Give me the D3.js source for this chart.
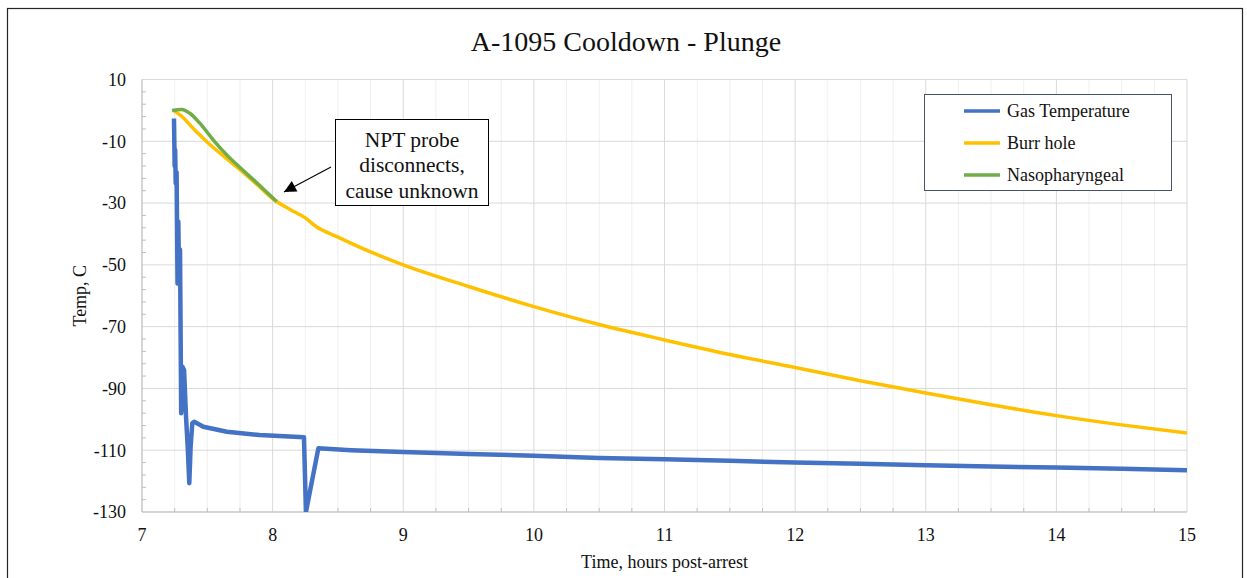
<!DOCTYPE html>
<html>
<head>
<meta charset="utf-8">
<script src="https://cdn.jsdelivr.net/npm/d3@7"></script>
<style>
  body { margin: 0; background: #fff; }
  svg { display: block; font-family: "Liberation Serif", "Times New Roman", serif; }
</style>
</head>
<body>
<svg id="chart" width="1247" height="578"></svg>
<script>
// A-1095 cooldown: gas temp vs burr hole vs nasopharyngeal probes.

const xTicks = [7, 8, 9, 10, 11, 12, 13, 14, 15];
const yTicks = [10, -10, -30, -50, -70, -90, -110, -130];

// [hours post-arrest, temp C]
const gasTemp = [
  [7.245, -2.6], [7.250, -18], [7.254, -12.8], [7.258, -23.6], [7.265, -20],
  [7.272, -56], [7.278, -36], [7.284, -55], [7.291, -45], [7.300, -98],
  [7.310, -83], [7.322, -84], [7.338, -100], [7.350, -109], [7.362, -120.7],
  [7.372, -109], [7.385, -101.3], [7.400, -100.8], [7.47, -102.4], [7.65, -104],
  [7.9, -105.1], [8.24, -105.8], [8.255, -130], [8.35, -109.4], [8.6, -110],
  [9, -110.6], [9.5, -111.2], [10, -111.8], [10.5, -112.5], [11, -112.9],
  [11.5, -113.4], [12, -114], [12.5, -114.4], [13, -114.9], [13.5, -115.3],
  [14, -115.6], [14.5, -116], [15, -116.5]
];

const burrHole = [
  [7.24, 0], [7.3, -1.8], [7.4, -6.2], [7.5, -10.3], [7.625, -14.8],
  [7.75, -19.2], [7.875, -23.8], [8.0, -28.6], [8.13, -32], [8.25, -34.8],
  [8.33, -37.5], [8.5, -41], [8.75, -45.8], [9, -50], [9.5, -57],
  [10, -63.5], [10.5, -69.3], [11, -74.3], [11.5, -79], [12, -83.2],
  [12.5, -87.5], [13, -91.5], [13.5, -95.3], [14, -98.8], [14.5, -101.8],
  [15, -104.4]
];

const nasoph = [
  [7.23, 0], [7.304, 0.3], [7.368, -1], [7.444, -4.2], [7.546, -9.6],
  [7.649, -14.4], [7.75, -18.5], [7.878, -23.4], [8.031, -29.5]
];

const seriesNames = ['Gas Temperature', 'Burr hole', 'Nasopharyngeal'];
const seriesColors = ['#4472C4', '#FFC000', '#70AD47'];

const svg = d3.select('#chart');
const plot = { left: 142, right: 1187, top: 79.5, bottom: 512 };

const x = d3.scaleLinear().domain([7, 15]).range([plot.left, plot.right]);
const y = d3.scaleLinear().domain([-130, 10]).range([plot.bottom, plot.top]);

// outer frame
svg.append('rect')
  .attr('x', 7.5).attr('y', 8.5).attr('width', 1235).attr('height', 600)
  .attr('fill', '#fff').attr('stroke', '#262626').attr('stroke-width', 1.2);

// minor vertical grid every quarter hour
const minorX = d3.range(7, 15.001, 0.25).filter((d) => d % 1 !== 0);
svg.append('g').selectAll('line').data(minorX).join('line')
  .attr('x1', (d) => x(d)).attr('x2', (d) => x(d))
  .attr('y1', plot.top).attr('y2', plot.bottom)
  .attr('stroke', '#efefef').attr('stroke-width', 1);

// major grid
svg.append('g').selectAll('line').data(xTicks).join('line')
  .attr('x1', (d) => x(d)).attr('x2', (d) => x(d))
  .attr('y1', plot.top).attr('y2', plot.bottom)
  .attr('stroke', '#d9d9d9').attr('stroke-width', 1);
svg.append('g').selectAll('line').data(yTicks).join('line')
  .attr('x1', plot.left).attr('x2', plot.right)
  .attr('y1', (d) => y(d)).attr('y2', (d) => y(d))
  .attr('stroke', '#d9d9d9').attr('stroke-width', 1);

// axis lines
svg.append('line').attr('x1', plot.left).attr('x2', plot.left)
  .attr('y1', plot.top).attr('y2', plot.bottom).attr('stroke', '#bfbfbf');
svg.append('line').attr('x1', plot.left).attr('x2', plot.right)
  .attr('y1', plot.bottom).attr('y2', plot.bottom).attr('stroke', '#bfbfbf');

// minor ticks (inside)
const minorY = d3.range(-130, 10.001, 4).filter((d) => (d + 130) % 20 !== 0);
svg.append('g').selectAll('line').data(minorY).join('line')
  .attr('x1', plot.left).attr('x2', plot.left + 4)
  .attr('y1', (d) => y(d)).attr('y2', (d) => y(d))
  .attr('stroke', '#bfbfbf');
svg.append('g').selectAll('line').data(minorX).join('line')
  .attr('x1', (d) => x(d)).attr('x2', (d) => x(d))
  .attr('y1', plot.bottom).attr('y2', plot.bottom - 4)
  .attr('stroke', '#bfbfbf');

// tick labels
svg.append('g').selectAll('text').data(yTicks).join('text')
  .attr('x', plot.left - 16).attr('y', (d) => y(d)).attr('dy', '0.35em')
  .attr('text-anchor', 'end').attr('font-size', 18).attr('fill', '#111')
  .text((d) => d);
svg.append('g').selectAll('text').data(xTicks).join('text')
  .attr('x', (d) => x(d)).attr('y', 541)
  .attr('text-anchor', 'middle').attr('font-size', 18).attr('fill', '#111')
  .text((d) => d);

// titles
svg.append('text').attr('x', 626).attr('y', 51).attr('text-anchor', 'middle')
  .attr('font-size', 28).attr('fill', '#111').text('A-1095 Cooldown - Plunge');
svg.append('text').attr('x', (plot.left + plot.right) / 2).attr('y', 568)
  .attr('text-anchor', 'middle').attr('font-size', 18).attr('fill', '#111')
  .text('Time, hours post-arrest');
svg.append('text')
  .attr('transform', `translate(86,${(plot.top + plot.bottom) / 2}) rotate(-90)`)
  .attr('text-anchor', 'middle').attr('font-size', 18).attr('fill', '#111')
  .text('Temp, C');

// series
svg.append('clipPath').attr('id', 'clip').append('rect')
  .attr('x', plot.left).attr('y', plot.top)
  .attr('width', plot.right - plot.left).attr('height', plot.bottom - plot.top);

const rough = d3.line().x((d) => x(d[0])).y((d) => y(d[1]));
const smooth = d3.line().x((d) => x(d[0])).y((d) => y(d[1])).curve(d3.curveMonotoneX);

const g = svg.append('g').attr('clip-path', 'url(#clip)');
g.append('path').datum(burrHole).attr('d', smooth)
  .attr('fill', 'none').attr('stroke', seriesColors[1]).attr('stroke-width', 3.5)
  .attr('stroke-linejoin', 'round');
g.append('path').datum(nasoph).attr('d', smooth)
  .attr('fill', 'none').attr('stroke', seriesColors[2]).attr('stroke-width', 3.5)
  .attr('stroke-linejoin', 'round');
g.append('path').datum(gasTemp).attr('d', rough)
  .attr('fill', 'none').attr('stroke', seriesColors[0]).attr('stroke-width', 4.5)
  .attr('stroke-linejoin', 'round');

// legend
const lg = svg.append('g');
lg.append('rect').attr('x', 924.5).attr('y', 94.5).attr('width', 247).attr('height', 96)
  .attr('fill', '#fff').attr('stroke', '#44546a').attr('stroke-width', 1);
seriesNames.forEach((name, i) => {
  const yy = 111 + i * 32;
  lg.append('line').attr('x1', 964).attr('x2', 1000).attr('y1', yy).attr('y2', yy)
    .attr('stroke', seriesColors[i]).attr('stroke-width', 3.5);
  lg.append('text').attr('x', 1007).attr('y', yy).attr('dy', '0.35em')
    .attr('font-size', 18).attr('fill', '#111').text(name);
});

// annotation
const note = { t: 8.087, v: -26.4 };
svg.append('defs').append('marker')
  .attr('id', 'arrow').attr('viewBox', '0 0 10 10')
  .attr('refX', 10).attr('refY', 5)
  .attr('markerUnits', 'userSpaceOnUse')
  .attr('markerWidth', 15).attr('markerHeight', 12)
  .attr('orient', 'auto')
  .append('path').attr('d', 'M0,0 L10,5 L0,10 z').attr('fill', '#000');
svg.append('line')
  .attr('x1', 331).attr('y1', 167)
  .attr('x2', x(note.t)).attr('y2', y(note.v))
  .attr('stroke', '#000').attr('stroke-width', 1.1)
  .attr('marker-end', 'url(#arrow)');
svg.append('rect').attr('x', 335.5).attr('y', 119.5).attr('width', 153).attr('height', 86)
  .attr('fill', '#fff').attr('stroke', '#000').attr('stroke-width', 1);
['NPT probe', 'disconnects,', 'cause unknown'].forEach((s, i) => {
  svg.append('text').attr('x', 412).attr('y', 139 + i * 25.5).attr('dy', '0.35em')
    .attr('text-anchor', 'middle').attr('font-size', 21.5).attr('fill', '#111').text(s);
});
</script>
</body>
</html>
